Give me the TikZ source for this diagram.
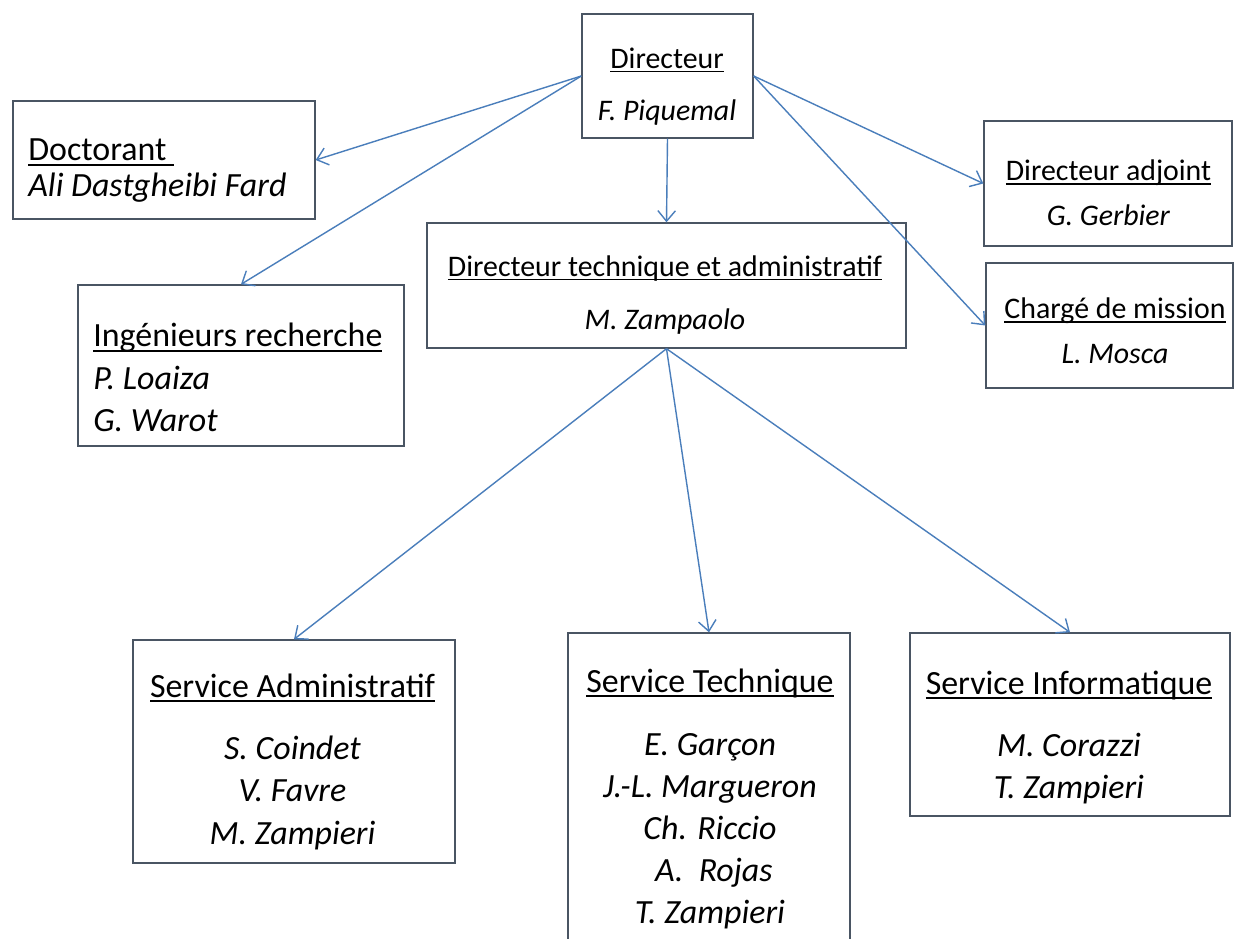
\documentclass[tikz,border=0pt]{standalone}
\usepackage{fontspec}
\setmainfont{Carlito}
\usetikzlibrary{arrows.meta}

\definecolor{boxgray}{HTML}{4A5563}
\definecolor{linkblue}{HTML}{4A7EBB}

\newcommand{\ulbox}[1]{\setbox0\hbox{#1}\rlap{\rule[-0.14em]{\wd0}{0.055em}}\box0}
\newcommand{\bigfont}{\fontsize{19.3}{24}\selectfont}
\newcommand{\smallfont}{\fontsize{17}{21}\selectfont}

\begin{document}
\begin{tikzpicture}[x=0.02cm, y=-0.02cm,
    box/.style={draw=boxgray, line width=0.8pt, inner sep=0pt},
    txt/.style={inner sep=0pt, align=center},
    link/.style={draw=linkblue, line width=0.8pt, -{Straight Barb[length=6pt,width=10pt]}}]
        % Page
        \fill[white] (0,0) rectangle (1241,938);
        \useasboundingbox (0,0) rectangle (1241,938);
        \clip (0,0) rectangle (1241,938);

        % Boxes
        \node[box, minimum width=3.42cm, minimum height=2.48cm] (dir) at (667.5,76) {};
        \node[box, minimum width=6.04cm, minimum height=2.36cm] (doc) at (164,160) {};
        \node[box, minimum width=4.96cm, minimum height=2.5cm] (adj) at (1108,183.5) {};
        \node[box, minimum width=4.94cm, minimum height=2.5cm] (cdm) at (1109.5,325.5) {};
        \node[box, minimum width=9.58cm, minimum height=2.5cm] (dta) at (666.5,285.5) {};
        \node[box, minimum width=6.52cm, minimum height=3.22cm] (ing) at (241,365.5) {};
        \node[box, minimum width=6.44cm, minimum height=4.46cm] (sad) at (294,751.5) {};
        \node[box, minimum width=5.64cm, minimum height=6.74cm] (stc) at (709,801.5) {};
        \node[box, minimum width=6.4cm, minimum height=3.66cm] (sin) at (1070,724.5) {};

        % Texts
        \node[txt, font=\smallfont] (dirtxt) at (667,86.5) {\ulbox{Directeur}\\[9pt]\textit{F. Piquemal}};
        \node[txt, font=\bigfont, align=left, anchor=west] (doctxt) at (28,171) {\ulbox{Doctorant\ }\\[-3.5pt]\textit{Ali Dastgheibi Fard}};
        \node[txt, font=\smallfont] (adjtxt) at (1108.5,192.5) {\ulbox{Directeur adjoint}\\[4.5pt]\textit{G. Gerbier}};
        \node[txt, font=\smallfont] (cdmtxt) at (1115,330.5) {\ulbox{Chargé de mission}\\[4.5pt]\textit{L. Mosca}};
        \node[txt, font=\smallfont] (dtatxt) at (665,295) {\ulbox{Directeur technique et administratif}\\[9.6pt]\textit{M. Zampaolo}};
        \node[txt, font=\bigfont, align=left, anchor=west] (ingtxt) at (93,377.5) {\ulbox{Ingénieurs recherche}\\\textit{P. Loaiza}\\\textit{G. Warot}};
        \node[txt, font=\bigfont] (sadtxt) at (292.5,761.5) {\ulbox{Service Administratif}\\[11.7pt]\textit{S. Coindet}\\\textit{V. Favre}\\\textit{M. Zampieri}};
        \node[txt, font=\bigfont] (stctxt) at (710,799) {\ulbox{Service Technique}\\[11.7pt]\textit{E. Garçon}\\\textit{J.-L. Margueron}\\\textit{Ch. Riccio}\\\textit{~A.~ Rojas}\\\textit{T. Zampieri}};
        \node[txt, font=\bigfont] (sintxt) at (1069,737.5) {\ulbox{Service Informatique}\\[11.7pt]\textit{M. Corazzi}\\\textit{T. Zampieri}};

        % Links
        \draw[link] (dir.west) -- (doc.east);
        \draw[link] (dir.west) -- (ing.north);
        \draw[link] (dir.south) -- (dta.north);
        \draw[link] (dir.east) -- (adj.west);
        \draw[link] (dir.east) -- (cdm.west);
        \draw[link] (dta.south) -- (sad.north);
        \draw[link] (dta.south) -- (stc.north);
        \draw[link] (dta.south) -- (sin.north);
      \end{tikzpicture}
\end{document}
